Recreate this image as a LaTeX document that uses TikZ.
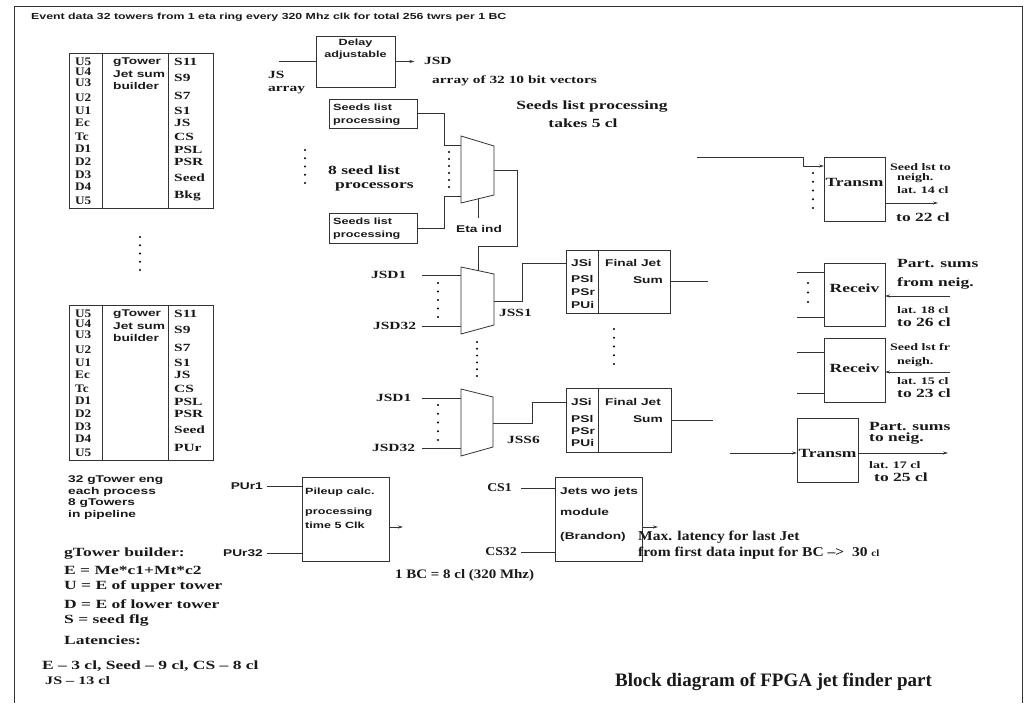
\documentclass[tikz,border=0pt]{standalone}
\usepackage{fontspec}
\setmainfont{Liberation Serif}
\setsansfont{Liberation Sans}
\newfontfamily\wserif[FakeStretch=1.4]{Liberation Serif}
\newfontfamily\mserif[FakeStretch=1.15]{Liberation Serif}
\newfontfamily\wsans[FakeStretch=1.4]{Liberation Sans}
\usetikzlibrary{arrows.meta}
\newcommand\mydots[4]{\foreach \k in {0,...,#4}{\fill ({#1},{#2+\k*(#3-#2)/#4}) circle (1.1pt);}}
\newcommand\gtblock[3]{%
\begin{scope}[shift={(0,#2)}]
\node[box, minimum width=144pt, minimum height=155pt] (#1) at (141,130.5) {};
\draw[ln] (#1.north west) ++(34,0) coordinate (#1d1) -- ++(0,155);
\draw[ln] (#1.north west) ++(100,0) coordinate (#1d2) -- ++(0,155);
\foreach \t/\yy [count=\i] in {U5/62,U4/72,U3/83,U2/98,U1/111,Ec/123,Tc/137,D1/149,D2/162,D3/175,D4/187,U5/201}
  \node[trm] (#1l\i) at (75,\yy) {\t};
\node[ts] (#1m1) at (113,62) {gTower};
\node[ts] (#1m2) at (113,74) {Jet sum};
\node[ts] (#1m3) at (113,86) {builder};
\foreach \t/\yy [count=\i] in {S11/62,S9/78,S7/96,S1/111,JS/123,CS/137,PSL/150,PSR/162,Seed/178,#3/196}
  \node[tr] (#1r\i) at (174,\yy) {\t};
\end{scope}}
\begin{document}
\begin{tikzpicture}[x=1pt,y=-1pt]
\tikzset{
 ln/.style={line width=0.8pt, draw=black!80},
 box/.style={draw=black!80, line width=0.9pt, inner sep=0pt},
 tr/.style={font=\fontsize{11}{12}\wserif\bfseries, anchor=west, inner sep=0pt, text=black!90},
 trm/.style={font=\fontsize{11.5}{12}\mserif\bfseries, anchor=west, inner sep=0pt, text=black!90},
 trs/.style={font=\fontsize{10}{12}\wserif\bfseries, anchor=west, inner sep=0pt, text=black!90},
 trb/.style={font=\fontsize{12.5}{14}\wserif\bfseries, anchor=west, inner sep=0pt, text=black!90},
 ts/.style={font=\fontsize{9.8}{11}\wsans\bfseries, anchor=west, inner sep=0pt, text=black!90},
 tss/.style={font=\fontsize{9}{11}\wsans\bfseries, anchor=west, inner sep=0pt, text=black!90},
 arr/.style={ln, -{Stealth[length=5pt,width=3pt]}},
}
\useasboundingbox (0,0) rectangle (1029,704);
\fill[white] (0,0) rectangle (1029,704);
\draw[ln] (14,703) -- (14,6) -- (1022,6) -- (1022,703);
\node[ts, font=\fontsize{8.8}{11}\wsans\bfseries] (title) at (31,17) {Event data 32 towers from 1 eta ring every 320 Mhz clk for total 256 twrs per 1 BC};

% gTower blocks
\gtblock{gta}{0}{Bkg}
\gtblock{gtb}{252}{PUr}
\mydots{140}{237}{270}{4}

% Delay
\node[box, minimum width=79pt, minimum height=51pt] (delay) at (355.5,61.5) {};
\node[tss, anchor=center] (delt1) at (355.5,43) {Delay};
\node[tss, anchor=center] (delt2) at (355.5,55) {adjustable};
\coordinate (jsin) at (279,61.5);
\draw[ln] (jsin) -- (delay.west);
\node[tr] (jsl1) at (268,75) {JS};
\node[tr] (jsl2) at (268,90) {array};
\draw[arr] (delay.east) -- ++(19,0) coordinate (jsdout);
\node[tr] (jsd) at (424,61) {JSD};
\node[tr] (jsdarr) at (432,81) {array of 32 10 bit vectors};

% Seeds list processing
\node[box, minimum width=88pt, minimum height=29pt] (sl1) at (373,113.5) {};
\node[tss] (sl1a) at (333,107) {Seeds list};
\node[tss] (sl1b) at (333,121) {processing};
\node[box, minimum width=88pt, minimum height=30pt] (sl2) at (373,228) {};
\node[tss] (sl2a) at (333,221) {Seeds list};
\node[tss] (sl2b) at (333,235) {processing};
\mydots{305}{150}{183}{4}
\node[trb] (nsl1) at (328,170) {8 seed list};
\node[trb] (nsl2) at (335,187) {processors};

% Mux 1
\draw[ln] (461,136) coordinate (m1a) -- (494,146) -- (494,195) -- (461,203) -- cycle;
\coordinate (m1in1) at (461,145);
\coordinate (m1in2) at (461,196);
\draw[ln] (sl1.east) -- ++(27,0) |- (m1in1);
\draw[ln] (sl2.east) -- ++(27,0) |- (m1in2);
\mydots{449}{152}{187}{5}
\coordinate (m1out) at (494,170);
\coordinate (m1bot) at (478,199);
\draw[ln] (m1bot) -- ++(0,19);
\node[ts] (etaind) at (456,229) {Eta ind};
\node[trb, anchor=center] (slp1) at (592,107) {Seeds list processing};
\node[trb, anchor=center] (slp2) at (583,123) {takes 5 cl};

% Mux 2
\draw[ln] (461,267) -- (494,274) -- (494,325) -- (461,334) -- cycle;
\coordinate (m2top) at (478,270.6);
\draw[ln] (m1out) -- ++(23,0) -- ++(0,76) -| (m2top);
\coordinate (m2i1) at (461,275);
\coordinate (m2i2) at (461,326);
\draw[ln] (m2i1) -- ++(-39,0);
\draw[ln] (m2i2) -- ++(-39,0);
\node[tr] (jsd1a) at (371,275) {JSD1};
\node[tr] (jsd32a) at (373,326) {JSD32};
\mydots{438}{283}{317}{4}
\coordinate (m2out) at (494,301);
\node[tr] (jss1) at (499,313) {JSS1};

% Final Jet Sum 1
\node[box, minimum width=104pt, minimum height=63pt] (fj1) at (618,281.5) {};
\draw[ln] (598,250) -- (598,313);
\coordinate (fj1in) at (566,263);
\draw[ln] (m2out) -- ++(28,0) |- (fj1in);
\node[ts] (fj1a) at (571,263) {JSi};
\node[ts] (fj1b) at (571,279) {PSl};
\node[ts] (fj1c) at (571,292) {PSr};
\node[ts] (fj1d) at (571,305) {PUi};
\node[ts] (fj1e) at (605,263) {Final Jet};
\node[ts, anchor=east] (fj1f) at (663,280) {Sum};
\draw[ln] (fj1.east) -- ++(38,0);

\mydots{477}{342}{376}{5}
\mydots{614}{329}{364}{4}

% Mux 3
\draw[ln] (461,389) -- (493,397) -- (493,447) -- (461,456) -- cycle;
\coordinate (m3i1) at (461,398);
\coordinate (m3i2) at (461,448);
\draw[ln] (m3i1) -- ++(-39,0);
\draw[ln] (m3i2) -- ++(-39,0);
\node[tr] (jsd1b) at (376,398) {JSD1};
\node[tr] (jsd32b) at (372,448) {JSD32};
\mydots{438}{405}{440}{4}
\coordinate (m3out) at (493,423);
\node[tr] (jss6) at (507,440) {JSS6};

% Final Jet Sum 2
\node[box, minimum width=105pt, minimum height=64pt] (fj2) at (618.5,420) {};
\draw[ln] (598,388) -- (598,452);
\coordinate (fj2in) at (566,402);
\draw[ln] (m3out) -- ++(39,0) |- (fj2in);
\node[ts] (fj2a) at (571,402) {JSi};
\node[ts] (fj2b) at (571,419) {PSl};
\node[ts] (fj2c) at (571,431) {PSr};
\node[ts] (fj2d) at (571,443) {PUi};
\node[ts] (fj2e) at (605,402) {Final Jet};
\node[ts, anchor=east] (fj2f) at (663,419) {Sum};
\draw[ln] (fj2.east) -- ++(42,0);

% Transm 1
\node[box, minimum width=61pt, minimum height=64pt] (tx1) at (854.5,189) {};
\node[trb, anchor=center] (tx1t) at (854.5,182) {Transm};
\coordinate (sls) at (697,157);
\coordinate (tx1in) at (824,166);
\draw[arr] (sls) -| ++(106,9) -- (tx1in);
\mydots{813}{173}{208}{4}
\node[trs] (tx1l1) at (890,167) {Seed lst to};
\node[trs] (tx1l2) at (897,178) {neigh.};
\node[trs] (tx1l3) at (897,190) {lat. 14 cl};
\coordinate (tx1out) at (885,203);
\draw[arr] (tx1out) -- ++(53,0);
\node[trb] (tx1l4) at (896,217) {to 22 cl};

% Receiv 1
\node[box, minimum width=61pt, minimum height=63pt] (rx1) at (854.5,294.5) {};
\node[trb, anchor=center] (rx1t) at (854.5,288) {Receiv};
\coordinate (rx1i1) at (824,272);
\coordinate (rx1i2) at (824,317);
\draw[ln] (rx1i1) -- ++(-27,0);
\draw[ln] (rx1i2) -- ++(-27,0);
\mydots{808}{283}{302}{2}
\coordinate (rx1src) at (950,296);
\coordinate (rx1e) at (885,296);
\draw[arr] (rx1src) -- (rx1e);
\node[trb] (rx1l1) at (897,263) {Part. sums};
\node[trb] (rx1l2) at (897,283) {from neig.};
\node[trs] (rx1l3) at (897,310) {lat. 18 cl};
\node[trb] (rx1l4) at (897,322) {to 26 cl};

% Receiv 2
\node[box, minimum width=61pt, minimum height=64pt] (rx2) at (854.5,370) {};
\node[trb, anchor=center] (rx2t) at (854.5,368) {Receiv};
\coordinate (rx2i1) at (824,352);
\coordinate (rx2i2) at (824,393);
\draw[ln] (rx2i1) -- ++(-27,0);
\draw[ln] (rx2i2) -- ++(-27,0);
\coordinate (rx2src) at (950,372);
\coordinate (rx2e) at (885,372);
\draw[arr] (rx2src) -- (rx2e);
\node[trs] (rx2l1) at (890,347) {Seed lst fr};
\node[trs] (rx2l2) at (897,362) {neigh.};
\node[trs] (rx2l3) at (897,381) {lat. 15 cl};
\node[trb] (rx2l4) at (897,393) {to 23 cl};

% Transm 2
\node[box, minimum width=61pt, minimum height=64pt] (tx2) at (827.5,450) {};
\node[trb, anchor=center] (tx2t) at (827.5,453) {Transm};
\coordinate (tx2src) at (730,453);
\coordinate (tx2in) at (797,453);
\draw[arr] (tx2src) -- (tx2in);
\coordinate (tx2out) at (858,453);
\draw[arr] (tx2out) -- ++(90,0);
\node[trb] (tx2l1) at (869,426) {Part. sums};
\node[trb] (tx2l2) at (869,439) {to neig.};
\node[trs] (tx2l3) at (869,465) {lat. 17 cl};
\node[trb] (tx2l4) at (874,477) {to 25 cl};

% bottom left text
\node[ts] (bl1) at (68,480) {32 gTower eng};
\node[ts] (bl2) at (68,492) {each process};
\node[ts] (bl3) at (68,503) {8 gTowers};
\node[ts] (bl4) at (68,515) {in pipeline};
\node[trb] (gb1) at (64,554) {gTower builder:};
\node[trb] (gb2) at (64,570) {E = Me*c1+Mt*c2};
\node[trb] (gb3) at (64,586) {U = E of upper tower};
\node[trb] (gb4) at (64,604) {D = E of lower tower};
\node[trb] (gb5) at (64,620) {S = seed flg};
\node[trb] (gb6) at (64,640) {Latencies:};
\node[trb] (gb7) at (42,666) {E – 3 cl, Seed – 9 cl, CS – 8 cl};
\node[trs, font=\fontsize{11.5}{12}\wserif\bfseries] (gb8) at (45,681) {JS – 13 cl};

% Pileup
\node[box, minimum width=87pt, minimum height=84pt] (pu) at (345.5,519) {};
\node[tss] (pu1) at (305,492) {Pileup calc.};
\node[tss] (pu2) at (305,512) {processing};
\node[tss] (pu3) at (305,525) {time 5 Clk};
\coordinate (pui1) at (302,486);
\coordinate (pui2) at (302,553);
\draw[ln] (pui1) -- ++(-35,0);
\draw[ln] (pui2) -- ++(-35,0);
\node[ts, anchor=east] (pur1) at (263,486) {PUr1};
\node[ts, anchor=east] (pur32) at (263,553) {PUr32};
\coordinate (puo) at (389,527);
\draw[arr] (puo) -- ++(14,0);

% Jets wo jets
\node[box, minimum width=87pt, minimum height=84pt] (jw) at (598.5,519) {};
\node[ts] (jw1) at (560,492) {Jets wo jets};
\node[ts] (jw2) at (560,512) {module};
\node[ts] (jw3) at (560,537) {(Brandon)};
\coordinate (jwi1) at (555,488);
\coordinate (jwi2) at (555,552);
\draw[ln] (jwi1) -- ++(-34,0);
\draw[ln] (jwi2) -- ++(-34,0);
\node[tr, font=\fontsize{12}{14}\mserif\bfseries, anchor=east] (cs1) at (512,488) {CS1};
\node[tr, font=\fontsize{12}{14}\mserif\bfseries, anchor=east] (cs32) at (517,552) {CS32};
\coordinate (jwo) at (642,527);
\draw[arr] (jwo) -- ++(16,0);

\node[trb, font=\fontsize{13.5}{15}\mserif\bfseries] (ml1) at (638,537) {Max. latency for last Jet};
\node[trb, font=\fontsize{13.5}{15}\mserif\bfseries] (ml2) at (638,553) {from first data input for BC –>~ 30 {\fontsize{9.5}{10}\selectfont cl}};
\node[trb, font=\fontsize{13}{15}\mserif\bfseries] (bc) at (395,575) {1 BC = 8 cl (320 Mhz)};
\node[tr, font=\fontsize{19}{20}\selectfont\bfseries] (bd) at (615,682) {Block diagram of FPGA jet finder part};
\end{tikzpicture}
\end{document}
